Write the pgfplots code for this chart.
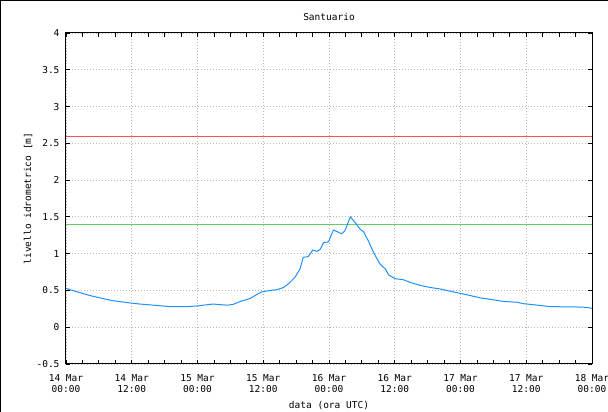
\documentclass[border=0pt]{standalone}
\usepackage{pgfplots}
\pgfplotsset{compat=1.18}
\usepackage{fontspec}
\setmainfont{DejaVu Sans Mono}
\definecolor{levelblue}{RGB}{30,144,255}
\definecolor{limitred}{RGB}{255,80,80}
\definecolor{limitgreen}{RGB}{102,204,102}

\begin{document}
\begin{tikzpicture}
\begin{axis}[
  scale only axis,
  width=526pt, height=331pt,
  xmin=0, xmax=96, ymin=-0.5, ymax=4,
  xtick={0,12,...,96},
  xticklabels={{14 Mar\\00:00},{14 Mar\\12:00},{15 Mar\\00:00},{15 Mar\\12:00},{16 Mar\\00:00},{16 Mar\\12:00},{17 Mar\\00:00},{17 Mar\\12:00},{18 Mar\\00:00}},
  minor x tick num=3,
  ytick={-0.5,0,0.5,1,1.5,2,2.5,3,3.5,4},
  yticklabels={-0.5,0,0.5,1,1.5,2,2.5,3,3.5,4},
  tick align=inside,
  major tick length=4pt, minor tick length=4pt,
  tick style={black, line width=0.8pt},
  axis line style={black, line width=1pt},
  grid=major,
  grid style={gray!55, line width=0.8pt, dash pattern=on 1pt off 2pt},
  font=\fontsize{9.5}{11}\selectfont,
  xticklabel style={align=center, font=\fontsize{9.5}{11}\selectfont, yshift=-7pt},
  yticklabel style={font=\fontsize{9.5}{11}\selectfont, xshift=-3pt},
  title={Santuario},
  title style={at={(axis description cs:0.5,1)}, anchor=center, yshift=10pt, font=\fontsize{9.5}{11}\selectfont},
  xlabel={data (ora UTC)},
  xlabel style={at={(axis description cs:0.5,0)}, anchor=center, yshift=-42pt, font=\fontsize{9.5}{11}\selectfont},
  ylabel={livello idrometrico [m]},
  ylabel style={at={(axis description cs:-0.0722,0.5)}, anchor=center, font=\fontsize{9.5}{11}\selectfont},
]
\addplot[draw=limitred, line width=0.9pt] coordinates {(0,2.6) (96,2.6)};
\addplot[draw=limitgreen, line width=1.1pt] coordinates {(0,1.4) (96,1.4)};
\addplot[draw=levelblue, line width=1pt] coordinates {
(0,0.53) (0.73,0.51) (2.56,0.47) (4.38,0.43) (6.76,0.39) (8.58,0.36)
(11.7,0.33) (13.5,0.315) (15.9,0.30) (19,0.28) (22.1,0.28) (24.1,0.29)
(26.8,0.315) (29.4,0.30) (30.5,0.31) (31.8,0.35) (33.6,0.39) (34.5,0.43)
(35.7,0.48) (37.25,0.50) (38.5,0.51) (39.7,0.54) (40.6,0.59) (41.8,0.68)
(42.7,0.79) (43.3,0.95) (44.2,0.96) (45.05,1.05) (45.8,1.03) (46.4,1.06)
(47.0,1.15) (47.9,1.16) (48.8,1.32) (49.5,1.30) (50.3,1.27) (50.9,1.31)
(51.9,1.50) (52.8,1.42) (53.7,1.33) (54.3,1.30) (55.2,1.17) (56.1,1.02)
(57.3,0.86) (58.3,0.79) (58.9,0.71) (60.1,0.66) (61.6,0.645) (62.8,0.61)
(64.6,0.57) (66.5,0.54) (68.3,0.52) (70.1,0.49) (72.0,0.46) (73.8,0.43)
(75.6,0.40) (77.4,0.38) (79.9,0.35) (82.3,0.34) (83.5,0.32) (86,0.30)
(88.4,0.28) (93.3,0.275) (95.1,0.27) (96,0.256)};
\end{axis}
% page frame: the reference shows a border on the left and top edges
\pgfresetboundingbox
\useasboundingbox (-66pt,-48pt) rectangle (542pt,364pt);
\draw[black, line width=1.5pt] (-65.25pt,-48pt) -- (-65.25pt,363.25pt) -- (542pt,363.25pt);
\end{tikzpicture}
\end{document}
